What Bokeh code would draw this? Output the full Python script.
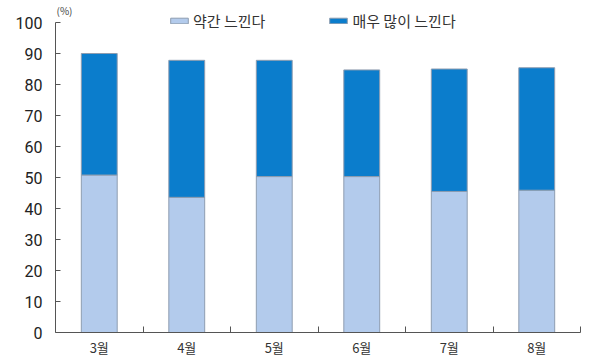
from bokeh.plotting import figure
from bokeh.models import (Range1d, FixedTicker, Legend, LegendItem, Label,
                          ColumnDataSource)
from bokeh.embed import file_html
from bokeh.resources import INLINE

months = ["3월", "4월", "5월", "6월", "7월", "8월"]
slightly = [50.8, 43.6, 50.3, 50.3, 45.5, 45.9]
total = [90.0, 87.8, 87.8, 84.7, 85.0, 85.4]
very_much = [round(t - s, 1) for t, s in zip(total, slightly)]
y_ticks = [0, 10, 20, 30, 40, 50, 60, 70, 80, 90, 100]
series_names = ["약간 느낀다", "매우 많이 느낀다"]
unit_label = "(%)"

LIGHT = "#b3cbec"
DARK = "#0b7dcc"
KR = "Noto Sans CJK KR"

# layout: axis 0..100 occupies 310px; frame extends to the top edge for legend / unit
AXIS_PX = 310
FRAME_H = 332
y_end = 100 * FRAME_H / AXIS_PX

xc = [i + 0.5 for i in range(len(months))]
src = ColumnDataSource(dict(x=xc,
                            top1=slightly,
                            top2=[a + b for a, b in zip(slightly, very_much)]))

p = figure(width=594, height=356, frame_width=525, frame_height=FRAME_H,
           output_backend="svg", toolbar_location=None,
           x_range=Range1d(0, len(months)), y_range=Range1d(0, y_end),
           min_border_left=55, min_border_right=14, min_border_top=0,
           min_border_bottom=24)
p.outline_line_color = None
p.xgrid.visible = False
p.ygrid.visible = False

r1 = p.vbar(x="x", bottom=0, top="top1", width=0.41, source=src,
            fill_color=LIGHT, line_color="#8e9db0", line_width=1)
r2 = p.vbar(x="x", bottom="top1", top="top2", width=0.41, source=src,
            fill_color=DARK, line_color="#8e9db0", line_width=1)

# y axis
p.yaxis.ticker = FixedTicker(ticks=y_ticks)
p.yaxis.bounds = (0, 100)
p.yaxis.major_tick_in = 5
p.yaxis.major_tick_out = 0
p.yaxis.minor_tick_line_color = None
p.yaxis.axis_line_color = "#555555"
p.yaxis.major_tick_line_color = "#555555"
p.yaxis.major_label_text_font = "Roboto"
p.yaxis.major_label_text_font_size = "16px"
p.yaxis.major_label_text_color = "#222222"
p.yaxis.major_label_standoff = 13

# x axis: labels at centers, tick marks at boundaries
boundaries = list(range(1, len(months) + 1))
p.xaxis.ticker = FixedTicker(ticks=xc, minor_ticks=boundaries)
p.xaxis.major_label_overrides = {c: m for c, m in zip(xc, months)}
p.xaxis.major_tick_line_color = None
p.xaxis.major_tick_in = 0
p.xaxis.major_tick_out = 0
p.xaxis.minor_tick_in = 6
p.xaxis.minor_tick_out = 0
p.xaxis.minor_tick_line_color = "#555555"
p.xaxis.axis_line_color = "#555555"
p.xaxis.major_label_text_font = KR
p.xaxis.major_label_text_font_size = "13px"
p.xaxis.major_label_text_color = "#333333"
p.xaxis.major_label_standoff = 5

legend = Legend(items=[LegendItem(label=series_names[0], renderers=[r1]),
                       LegendItem(label=series_names[1], renderers=[r2])],
                orientation="horizontal", location=(113, 301),
                padding=0, margin=0, spacing=62,
                glyph_width=22, glyph_height=7, label_height=16,
                label_standoff=3, border_line_color=None,
                background_fill_alpha=0,
                label_text_font=KR, label_text_font_size="15px",
                label_text_color="#333333")
p.add_layout(legend, "center")

p.add_layout(Label(x=1, y=322, x_units="screen", y_units="screen",
                   text=unit_label, text_font=KR, text_font_size="10px",
                   text_align="left", text_baseline="middle",
                   text_color="#444444"))

open("out.html", "w").write(file_html(p, INLINE))
